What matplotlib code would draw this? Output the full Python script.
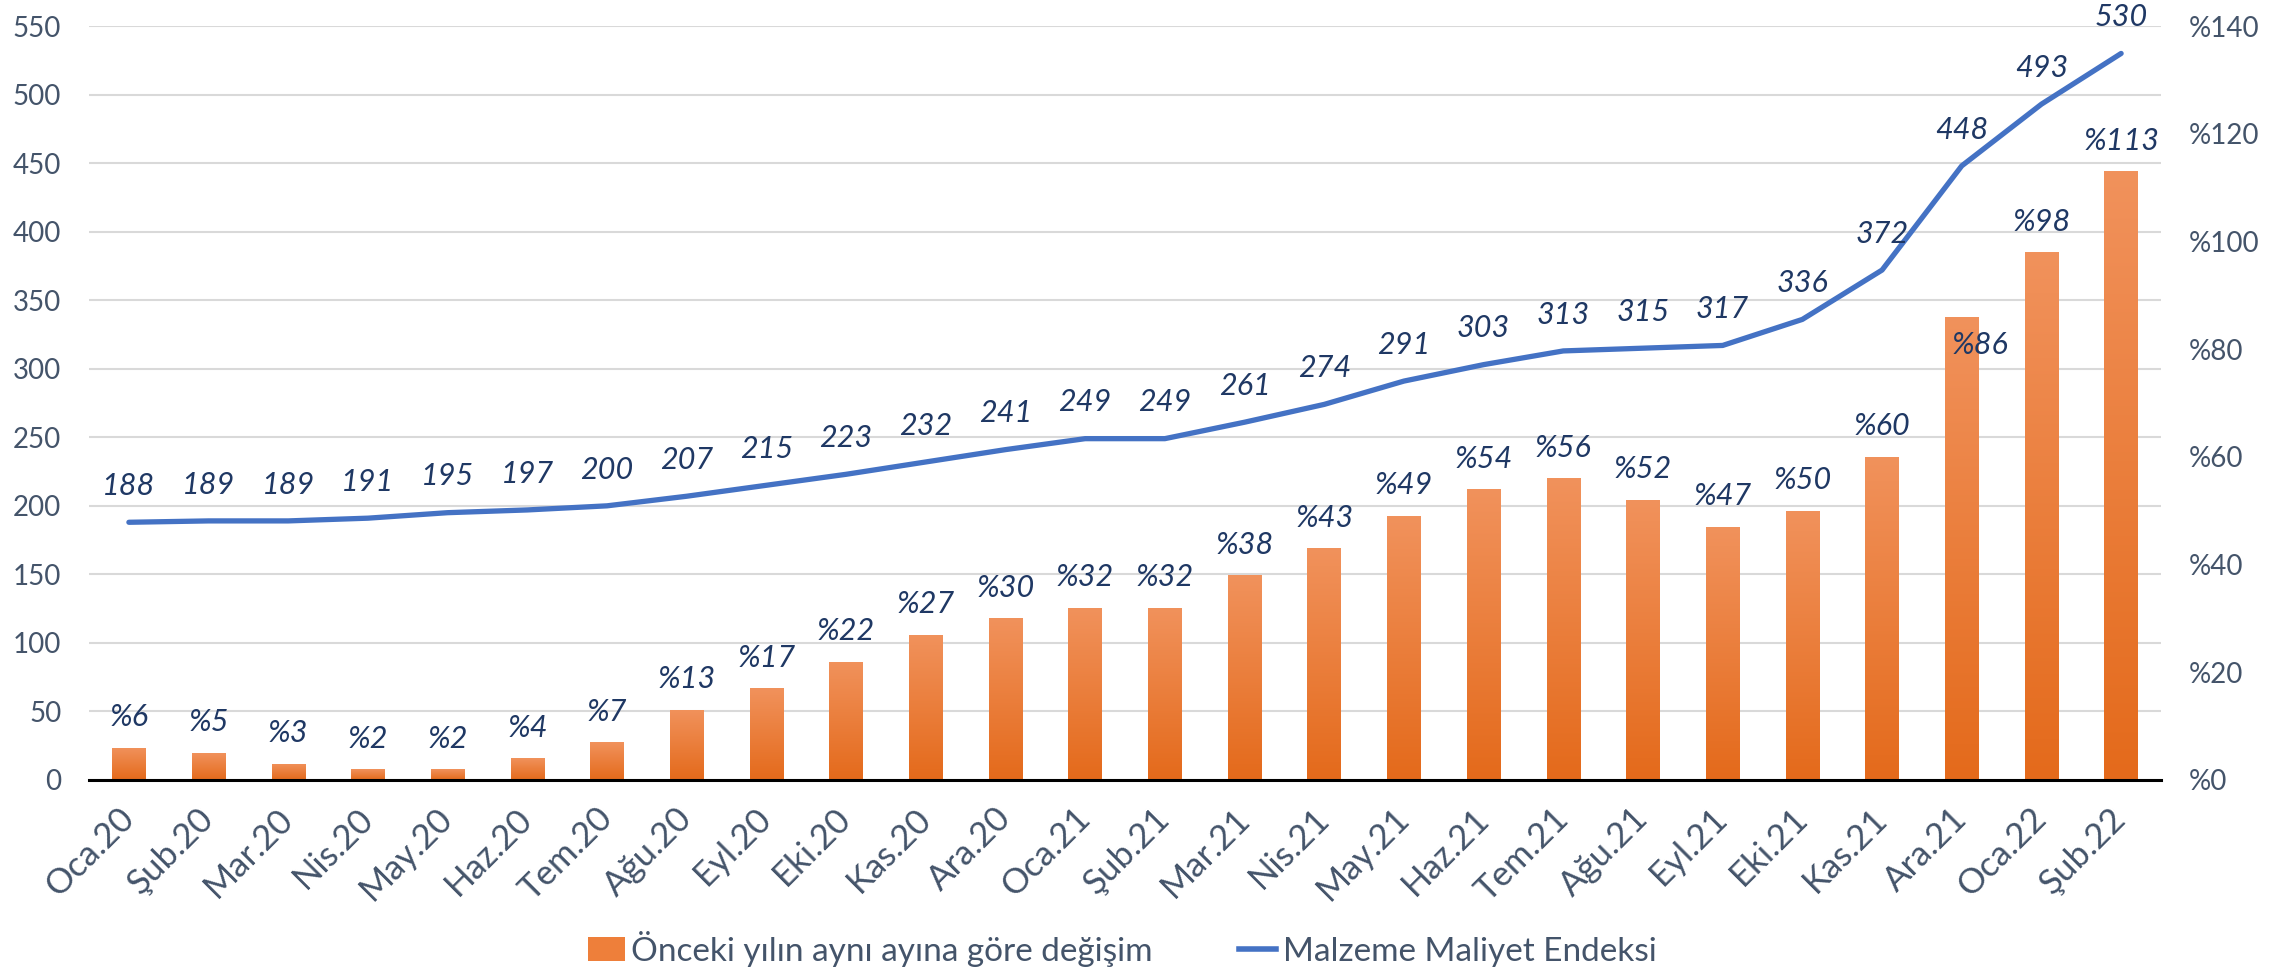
import numpy as np
import matplotlib
matplotlib.use('Agg')
import matplotlib.pyplot as plt
from matplotlib.colors import LinearSegmentedColormap
from matplotlib.lines import Line2D
from matplotlib.patches import Patch

plt.rcParams['font.family'] = ['Lato', 'DejaVu Sans']

months = ['Oca.20', 'Şub.20', 'Mar.20', 'Nis.20', 'May.20', 'Haz.20', 'Tem.20', 'Ağu.20',
          'Eyl.20', 'Eki.20', 'Kas.20', 'Ara.20', 'Oca.21', 'Şub.21', 'Mar.21', 'Nis.21',
          'May.21', 'Haz.21', 'Tem.21', 'Ağu.21', 'Eyl.21', 'Eki.21', 'Kas.21', 'Ara.21',
          'Oca.22', 'Şub.22']
index_vals = [188, 189, 189, 191, 195, 197, 200, 207, 215, 223, 232, 241, 249, 249, 261,
              274, 291, 303, 313, 315, 317, 336, 372, 448, 493, 530]
yoy_pct = [6, 5, 3, 2, 2, 4, 7, 13, 17, 22, 27, 30, 32, 32, 38, 43, 49, 54, 56, 52, 47,
           50, 60, 86, 98, 113]

label_col = '#44546A'
data_col = '#1F3864'
line_col = '#4472C4'

fig = plt.figure(figsize=(22.95, 9.75), dpi=100)
ax = fig.add_axes([0.0388, 0.2, 0.9028, 0.7733])
ax2 = ax.twinx()

x = np.arange(len(months))

# left axis: grid + ticks only
ax.set_xlim(-0.5, len(months) - 0.5)
ax.set_ylim(0, 550)
ax.set_yticks(np.arange(0, 551, 50))
ax.grid(axis='y', color='#D9D9D9', lw=1.5)
ax.set_axisbelow(True)
ax.set_xticks(x)
ax.set_xticklabels(months, rotation=45, ha='right', va='center', rotation_mode='anchor')
ax.tick_params(axis='x', length=0, pad=24, labelsize=25, labelcolor=label_col)
ax.tick_params(axis='y', length=0, pad=20, labelsize=20, labelcolor=label_col)
for s in ax.spines.values():
    s.set_visible(False)

# right axis: bars
ax2.set_ylim(0, 140)
ax2.set_yticks(np.arange(0, 141, 20))
ax2.set_yticklabels(['%' + str(v) for v in range(0, 141, 20)])
ax2.tick_params(axis='y', length=0, pad=20, labelsize=20, labelcolor=label_col)
for k, s in ax2.spines.items():
    s.set_visible(k == 'bottom')
ax2.spines['bottom'].set_color('black')
ax2.spines['bottom'].set_linewidth(2.2)

bars = ax2.bar(x, yoy_pct, width=0.42, facecolor='none', edgecolor='none', zorder=1)
cmap = LinearSegmentedColormap.from_list('og', ['#E46A1B', '#F1925C'])
grad = np.linspace(0, 1, 256).reshape(-1, 1)
for b in bars:
    x0, w, h = b.get_x(), b.get_width(), b.get_height()
    im = ax2.imshow(grad, cmap=cmap, extent=[x0, x0 + w, 0, h], origin='lower',
                    aspect='auto', zorder=1)
    im.set_clip_path(b)
ax2.set_xlim(-0.5, len(months) - 0.5)
ax2.set_ylim(0, 140)

# index line drawn in left-axis units
ax2.plot(x, index_vals, color=line_col, lw=3.8, solid_capstyle='round', zorder=3,
         transform=ax.transData)

for i, v in enumerate(index_vals):
    ax2.annotate(str(v), (x[i], v), xycoords=ax.transData, xytext=(0, 16),
                 textcoords='offset points', ha='center', va='bottom', fontsize=22,
                 style='italic', color=data_col, zorder=4)

for i, v in enumerate(yoy_pct):
    dx, dy = 0, 12
    if months[i] == 'Ara.21':
        dx, dy = 13, -30
    ax2.annotate('%' + str(v), (x[i], v), xytext=(dx, dy), textcoords='offset points',
                 ha='center', va='bottom', fontsize=22, style='italic', color=data_col,
                 zorder=4)

handles = [Patch(facecolor='#EE7F3A', edgecolor='none'),
           Line2D([0], [0], color=line_col, lw=4)]
fig.legend(handles, ['Önceki yılın aynı ayına göre değişim', 'Malzeme Maliyet Endeksi'],
           loc='center', bbox_to_anchor=(0.489, 0.027), ncol=2, frameon=False,
           fontsize=24, labelcolor=label_col, handlelength=1.1, handletextpad=0.2,
           columnspacing=2.6)

fig.savefig('out.png', dpi=100)
